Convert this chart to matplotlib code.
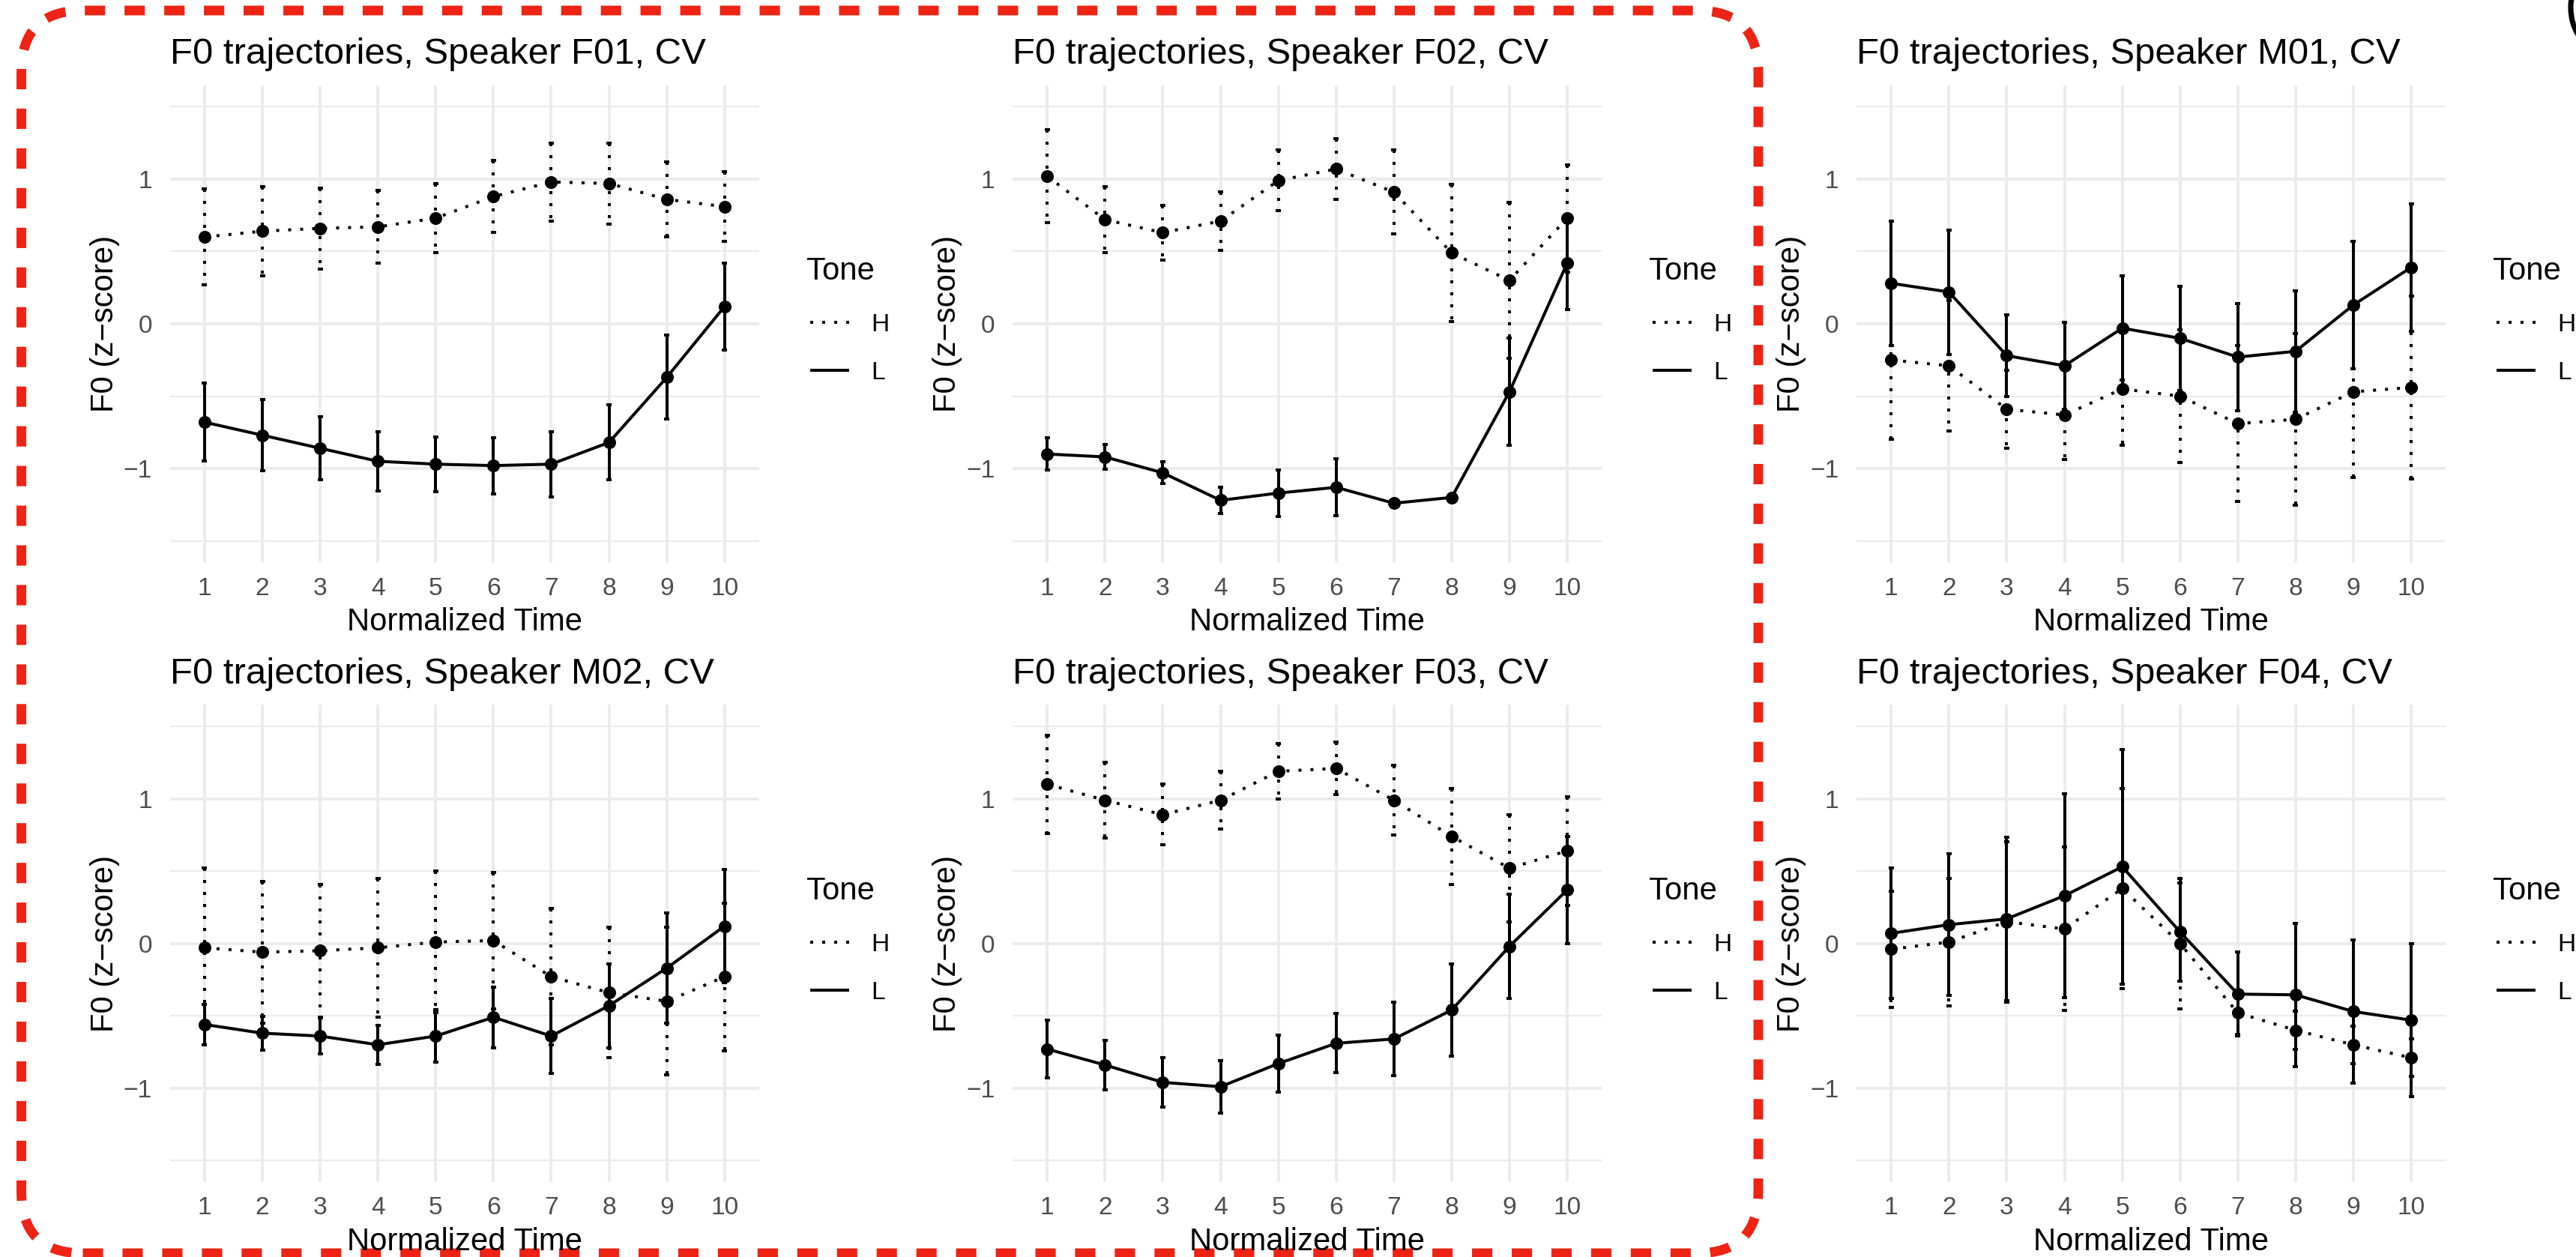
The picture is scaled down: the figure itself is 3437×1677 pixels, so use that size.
import numpy as np
import matplotlib
matplotlib.use("Agg")
import matplotlib.pyplot as plt
from matplotlib.lines import Line2D
from matplotlib.patches import FancyBboxPatch, Arc

plt.rcParams['font.family'] = ['Liberation Sans', 'DejaVu Sans']

# normalized time points (discrete x axis)
time_points = list(range(1, 11))

# speaker F01
f01_h_mean = [0.60, 0.64, 0.66, 0.67, 0.73, 0.88, 0.98, 0.97, 0.86, 0.81]
f01_h_err = [0.33, 0.31, 0.28, 0.25, 0.24, 0.25, 0.27, 0.28, 0.26, 0.24]
f01_l_mean = [-0.68, -0.77, -0.86, -0.95, -0.97, -0.98, -0.97, -0.82, -0.37, 0.12]
f01_l_err = [0.27, 0.245, 0.22, 0.205, 0.19, 0.195, 0.225, 0.26, 0.29, 0.30]

# speaker F02
f02_h_mean = [1.02, 0.72, 0.63, 0.71, 0.99, 1.07, 0.91, 0.49, 0.30, 0.73]
f02_h_err = [0.32, 0.23, 0.19, 0.20, 0.21, 0.21, 0.29, 0.475, 0.54, 0.37]
f02_l_mean = [-0.90, -0.92, -1.03, -1.22, -1.17, -1.13, -1.24, -1.20, -0.47, 0.42]
f02_l_err = [0.11, 0.085, 0.075, 0.09, 0.16, 0.195, 0.02, 0.02, 0.37, 0.32]

# speaker M01
m01_h_mean = [-0.25, -0.29, -0.59, -0.63, -0.45, -0.50, -0.69, -0.66, -0.47, -0.44]
m01_h_err = [0.55, 0.45, 0.27, 0.31, 0.39, 0.46, 0.54, 0.595, 0.59, 0.63]
m01_l_mean = [0.28, 0.22, -0.22, -0.29, -0.03, -0.10, -0.23, -0.19, 0.13, 0.39]
m01_l_err = [0.43, 0.43, 0.28, 0.30, 0.36, 0.36, 0.37, 0.42, 0.44, 0.44]

# speaker M02
m02_h_mean = [-0.03, -0.06, -0.05, -0.03, 0.01, 0.02, -0.23, -0.34, -0.40, -0.23]
m02_h_err = [0.55, 0.49, 0.46, 0.48, 0.49, 0.47, 0.47, 0.45, 0.51, 0.51]
m02_l_mean = [-0.56, -0.62, -0.64, -0.70, -0.64, -0.51, -0.64, -0.43, -0.17, 0.12]
m02_l_err = [0.14, 0.115, 0.125, 0.135, 0.18, 0.21, 0.26, 0.29, 0.38, 0.39]

# speaker F03
f03_h_mean = [1.10, 0.99, 0.89, 0.99, 1.19, 1.21, 0.99, 0.74, 0.52, 0.64]
f03_h_err = [0.34, 0.26, 0.21, 0.20, 0.19, 0.18, 0.24, 0.33, 0.37, 0.375]
f03_l_mean = [-0.73, -0.84, -0.96, -0.99, -0.83, -0.69, -0.66, -0.46, -0.02, 0.37]
f03_l_err = [0.20, 0.17, 0.17, 0.18, 0.195, 0.205, 0.255, 0.32, 0.36, 0.37]

# speaker F04
f04_h_mean = [-0.04, 0.01, 0.15, 0.10, 0.38, 0.00, -0.48, -0.60, -0.70, -0.79]
f04_h_err = [0.40, 0.44, 0.555, 0.565, 0.69, 0.45, 0.15, 0.13, 0.13, 0.13]
f04_l_mean = [0.07, 0.13, 0.17, 0.33, 0.53, 0.08, -0.35, -0.355, -0.47, -0.53]
f04_l_err = [0.45, 0.49, 0.565, 0.705, 0.81, 0.34, 0.29, 0.495, 0.495, 0.53]

panels = [
    ("F01", f01_h_mean, f01_h_err, f01_l_mean, f01_l_err),
    ("F02", f02_h_mean, f02_h_err, f02_l_mean, f02_l_err),
    ("M01", m01_h_mean, m01_h_err, m01_l_mean, m01_l_err),
    ("M02", m02_h_mean, m02_h_err, m02_l_mean, m02_l_err),
    ("F03", f03_h_mean, f03_h_err, f03_l_mean, f03_l_err),
    ("F04", f04_h_mean, f04_h_err, f04_l_mean, f04_l_err),
]

# layout in output pixels (dpi 300)
W, H = 3437, 1677
DPI = 300
col_off = [0, 1124.3, 2250.3]
row_off = [0, 826.7]
P_LEFT, P_TOP, P_W, P_H = 226.7, 113.5, 786.3, 637.0

DOT = (0, (1, 3))
LW = 0.96
GRID = '#EBEBEB'
TICK_COL = '#4D4D4D'


def fx(x):
    return x / W


def fy(y):
    return 1 - y / H


fig = plt.figure(figsize=(W / DPI, H / DPI), dpi=DPI)

for i, (spk, h_mean, h_err, l_mean, l_err) in enumerate(panels):
    r, c = divmod(i, 3)
    ox, oy = col_off[c], row_off[r]
    ax = fig.add_axes([fx(P_LEFT + ox), fy(P_TOP + oy + P_H), P_W / W, P_H / H])

    x = np.array(time_points)
    for mean, err, ls in ((np.array(h_mean), np.array(h_err), DOT),
                          (np.array(l_mean), np.array(l_err), '-')):
        ax.plot(x, mean, color='black', lw=LW, linestyle=ls, solid_capstyle='butt', zorder=3)
        ax.vlines(x, mean + err, mean - err, color='black', lw=LW, linestyles=[ls], zorder=3)
        ax.hlines(mean + err, x - 0.045, x + 0.045, color='black', lw=LW, zorder=3)
        ax.hlines(mean - err, x - 0.045, x + 0.045, color='black', lw=LW, zorder=3)
        ax.plot(x, mean, 'o', color='black', ms=4.1, mew=0, zorder=4)

    ax.set_xlim(0.4, 10.6)
    ax.set_ylim(-1.65, 1.65)
    ax.set_xticks(time_points)
    ax.set_xticklabels([str(t) for t in time_points])
    ax.set_yticks([-1, 0, 1])
    ax.set_yticks([-1.5, -0.5, 0.5, 1.5], minor=True)
    ax.grid(which='major', color=GRID, lw=LW)
    ax.grid(which='minor', axis='y', color=GRID, lw=0.55)
    ax.set_axisbelow(True)
    for s in ax.spines.values():
        s.set_visible(False)
    ax.tick_params(which='both', length=0, labelsize=8.05, labelcolor=TICK_COL)
    ax.tick_params(axis='x', pad=4.6)
    ax.tick_params(axis='y', pad=5.7)

    # title, axis titles
    fig.text(fx(P_LEFT + ox), fy(85 + oy), f"F0 trajectories, Speaker {spk}, CV",
             ha='left', va='baseline', fontsize=11.8, color='black')
    fig.text(fx(P_LEFT + ox + P_W / 2), fy(841 + oy), "Normalized Time",
             ha='center', va='baseline', fontsize=10.05)
    fig.text(fx(140 + ox), fy(P_TOP + oy + P_H / 2), "F0 (z\u2212score)",
             ha='center', va='center', rotation=90, fontsize=10.05)

    # legend
    fig.text(fx(1076 + ox), fy(373 + oy), "Tone", ha='left', va='baseline', fontsize=10.05)
    for lab, ls, yk in (("H", DOT, 430), ("L", '-', 494)):
        fig.add_artist(Line2D([fx(1081 + ox), fx(1133 + ox)], [fy(yk + oy)] * 2,
                              transform=fig.transFigure, color='black', lw=LW,
                              linestyle=ls, solid_capstyle='butt'))
        fig.text(fx(1162 + ox), fy(yk + 12 + oy), lab, ha='left', va='baseline',
                 fontsize=8.05, color='black')

# red dashed rounded frame around the first two columns
x0, y0, x1, y1 = 28.5, 14, 2346, 1672
frame = FancyBboxPatch((x0 / DPI, (H - y1) / DPI), (x1 - x0) / DPI, (y1 - y0) / DPI,
                       boxstyle=f"round,pad=0,rounding_size={82 / DPI}",
                       transform=fig.dpi_scale_trans, fill=False,
                       ec='#EE2314', lw=3.1, linestyle=(0, (2.1, 2.0)),
                       capstyle='butt', clip_on=False)
fig.add_artist(frame)

# partial black arc at the top-right corner
arc = Arc((3462 / DPI, (H - 10) / DPI), 64 / DPI, 100 / DPI, theta1=90, theta2=270,
          transform=fig.dpi_scale_trans, color='black', lw=1.7, clip_on=False)
fig.add_artist(arc)

fig.savefig("out.png", dpi=DPI, facecolor='white')
